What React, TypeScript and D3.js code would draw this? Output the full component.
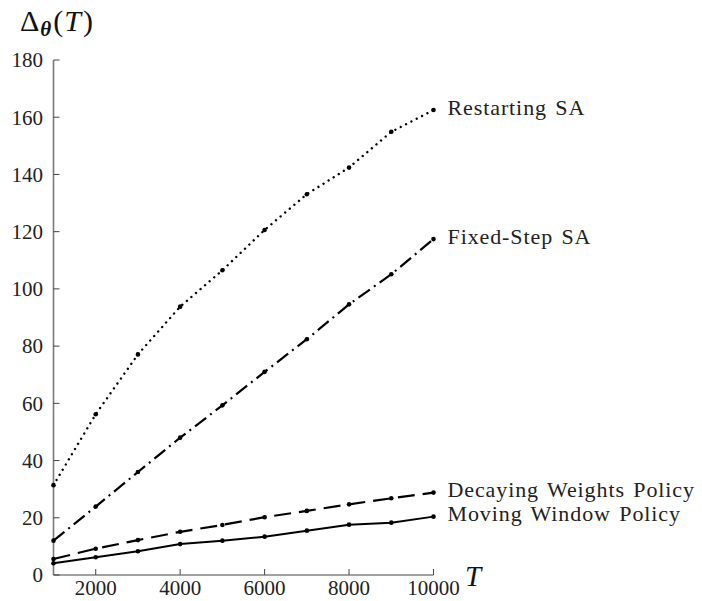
import React, { useEffect, useRef } from 'react';
import * as d3 from 'd3';

// horizon T
const horizons = [1000, 2000, 3000, 4000, 5000, 6000, 7000, 8000, 9000, 10000];

// cumulative regret per method
const restartingSA = [31.4, 56.2, 77.1, 93.8, 106.5, 120.6, 133.1, 142.4, 154.9, 162.5];
const fixedStepSA = [12.0, 23.9, 36.0, 48.0, 59.3, 71.0, 82.4, 94.6, 105.1, 117.4];
const decayingWeights = [5.6, 9.2, 12.2, 15.1, 17.5, 20.2, 22.4, 24.7, 26.8, 28.8];
const movingWindow = [4.1, 6.2, 8.3, 10.8, 12.0, 13.4, 15.5, 17.6, 18.3, 20.4];

const seriesNames = ['Restarting SA', 'Fixed-Step SA', 'Decaying Weights Policy', 'Moving Window Policy'];
const yTicks = [0, 20, 40, 60, 80, 100, 120, 140, 160, 180];
const xTicks = [2000, 4000, 6000, 8000, 10000];

const FONT = '"Liberation Serif", "DejaVu Serif", serif';

const App = () => {
  const svgRef = useRef<SVGSVGElement>(null);

  useEffect(() => {
    const svg = d3.select(svgRef.current);
    svg.selectAll('*').remove();

    const x = d3.scaleLinear().domain([1000, 10000]).range([53.5, 433.5]);
    const y = d3.scaleLinear().domain([0, 180]).range([575, 60]);

    // axes
    const axisColor = '#7a7a7a';
    svg.append('line')
      .attr('x1', x(1000)).attr('x2', x(1000))
      .attr('y1', y(180)).attr('y2', y(0))
      .attr('stroke', axisColor).attr('stroke-width', 1.6);
    svg.append('line')
      .attr('x1', x(1000)).attr('x2', x(10000))
      .attr('y1', y(0)).attr('y2', y(0))
      .attr('stroke', '#444').attr('stroke-width', 1.2);

    const gy = svg.append('g');
    yTicks.forEach((t) => {
      gy.append('line')
        .attr('x1', x(1000)).attr('x2', x(1000) + 6)
        .attr('y1', y(t)).attr('y2', y(t))
        .attr('stroke', '#444').attr('stroke-width', 1);
      gy.append('text')
        .attr('x', 43).attr('y', y(t))
        .attr('dy', '0.35em')
        .attr('text-anchor', 'end')
        .attr('font-family', FONT).attr('font-size', 21)
        .attr('fill', '#222')
        .text(t);
    });

    const gx = svg.append('g');
    xTicks.forEach((t) => {
      gx.append('line')
        .attr('x1', x(t)).attr('x2', x(t))
        .attr('y1', y(0)).attr('y2', y(0) - 6)
        .attr('stroke', '#444').attr('stroke-width', 1);
      gx.append('text')
        .attr('x', x(t)).attr('y', 595)
        .attr('text-anchor', 'middle')
        .attr('font-family', FONT).attr('font-size', 21)
        .attr('fill', '#222')
        .text(t);
    });

    // axis titles
    svg.append('text')
      .attr('x', 465).attr('y', 586)
      .attr('font-family', FONT).attr('font-size', 29)
      .attr('font-style', 'italic')
      .attr('fill', '#111')
      .text('T');

    const yt = svg.append('text')
      .attr('x', 20).attr('y', 31)
      .attr('font-family', FONT).attr('font-size', 30)
      .attr('fill', '#111');
    yt.append('tspan').text('Δ');
    yt.append('tspan')
      .attr('font-size', 21).attr('font-weight', 'bold').attr('font-style', 'italic')
      .attr('dx', 1).attr('dy', 5).text('θ');
    yt.append('tspan').attr('dx', 2).attr('dy', -5).text('(');
    yt.append('tspan').attr('font-style', 'italic').attr('dx', 1).text('T');
    yt.append('tspan').attr('dx', 2).text(')');

    // series
    const series = [
      { name: seriesNames[0], values: restartingSA, dash: '0.01 6', cap: 'round', width: 2.4 },
      { name: seriesNames[1], values: fixedStepSA, dash: '14 5 2 5', cap: 'butt', width: 2.2 },
      { name: seriesNames[2], values: decayingWeights, dash: '17 8', cap: 'butt', width: 2.2 },
      { name: seriesNames[3], values: movingWindow, dash: null, cap: 'butt', width: 2 },
    ];

    const line = d3.line<number>()
      .x((_, i) => x(horizons[i]))
      .y((d) => y(d));

    series.forEach((s) => {
      const path = svg.append('path')
        .datum(s.values)
        .attr('d', line)
        .attr('fill', 'none')
        .attr('stroke', '#000')
        .attr('stroke-width', s.width)
        .attr('stroke-linecap', s.cap);
      if (s.dash) path.attr('stroke-dasharray', s.dash);

      svg.append('g')
        .selectAll('circle')
        .data(s.values)
        .enter()
        .append('circle')
        .attr('cx', (_, i) => x(horizons[i]))
        .attr('cy', (d) => y(d))
        .attr('r', 2.3)
        .attr('fill', '#000');

      const last = s.values[s.values.length - 1];
      svg.append('text')
        .attr('x', x(10000) + 14)
        .attr('y', y(last) - 3)
        .attr('dy', '0.35em')
        .attr('font-family', FONT).attr('font-size', 22)
        .attr('letter-spacing', 0.9)
        .attr('word-spacing', 2)
        .attr('fill', '#222')
        .text(s.name);
    });
  }, []);

  return (
    <svg
      ref={svgRef}
      width={702}
      height={601}
      style={{ position: 'absolute', left: 0, top: 0, background: '#fff' }}
    />
  );
};

export default App;
